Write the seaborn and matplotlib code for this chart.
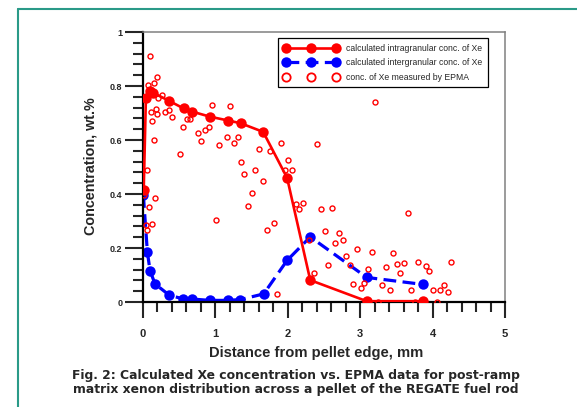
import numpy as np
import pandas as pd
import matplotlib
matplotlib.use("Agg")
import matplotlib.pyplot as plt
from matplotlib.lines import Line2D
from matplotlib.ticker import MultipleLocator
import seaborn as sns

# calculated intragranular conc. of Xe (red solid)
intra_x = [0.01, 0.04, 0.09, 0.14, 0.36, 0.56, 0.68, 0.93, 1.18, 1.35, 1.66, 1.99, 2.31, 3.09, 3.87]
intra_y = [0.415, 0.755, 0.78, 0.775, 0.745, 0.717, 0.705, 0.686, 0.672, 0.662, 0.63, 0.46, 0.081, 0.003, 0.003]

# calculated intergranular conc. of Xe (blue dashed)
inter_x = [0.005, 0.06, 0.097, 0.166, 0.364, 0.548, 0.677, 0.925, 1.17, 1.345, 1.667, 1.99, 2.31, 3.09, 3.87]
inter_y = [0.396, 0.186, 0.116, 0.067, 0.025, 0.012, 0.011, 0.006, 0.006, 0.009, 0.03, 0.154, 0.241, 0.091, 0.065]

# conc. of Xe measured by EPMA (open circles)
epma_x = [0.01, 0.037, 0.05, 0.129, 0.083, 0.166, 0.06, 0.152, 0.12, 0.106, 0.18, 0.189,
          0.065, 0.156, 0.198, 0.097, 0.212, 0.258, 0.308, 0.364, 0.405, 0.511, 0.552, 0.612,
          0.65, 0.755, 0.806, 0.856, 0.91, 0.957, 1.008, 1.054, 1.156, 1.206, 1.257, 1.308,
          1.358, 1.4, 1.455, 1.505, 1.55, 1.607, 1.657, 1.708, 1.754, 1.81, 1.855, 1.91,
          1.961, 2.003, 2.058, 2.109, 2.155, 2.205, 2.297, 2.362, 2.403, 2.454, 2.51, 2.555,
          2.606, 2.656, 2.707, 2.758, 2.808, 2.855, 2.905, 2.956, 3.007, 3.052, 3.108, 3.158,
          3.204, 3.25, 3.305, 3.356, 3.41, 3.453, 3.504, 3.554, 3.605, 3.66, 3.706, 3.75,
          3.803, 3.909, 3.955, 4.006, 4.06, 4.107, 4.16, 4.208, 4.254]
epma_y = [0.395, 0.284, 0.267, 0.29, 0.353, 0.386, 0.488, 0.599, 0.67, 0.705, 0.714, 0.696,
          0.804, 0.81, 0.834, 0.912, 0.757, 0.767, 0.703, 0.71, 0.684, 0.547, 0.648, 0.678,
          0.679, 0.625, 0.595, 0.636, 0.649, 0.731, 0.304, 0.583, 0.61, 0.726, 0.59, 0.61,
          0.517, 0.474, 0.354, 0.404, 0.489, 0.565, 0.448, 0.265, 0.56, 0.294, 0.028, 0.59,
          0.489, 0.527, 0.488, 0.363, 0.343, 0.368, 0.23, 0.106, 0.584, 0.343, 0.262, 0.138,
          0.347, 0.218, 0.254, 0.231, 0.17, 0.136, 0.067, 0.198, 0.052, 0.072, 0.121, 0.185,
          0.74, 0.0, 0.063, 0.128, 0.043, 0.181, 0.141, 0.107, 0.146, 0.331, 0.046, 0.0,
          0.149, 0.132, 0.114, 0.046, 0.0, 0.044, 0.062, 0.037, 0.148]

labels = ["calculated intragranular conc. of Xe",
          "calculated intergranular conc. of Xe",
          "conc. of Xe measured by EPMA"]
caption = ("Fig. 2: Calculated Xe concentration vs. EPMA data for post-ramp\n"
           "matrix xenon distribution across a pellet of the REGATE fuel rod")

sns.set_style("ticks")
plt.rcParams["font.family"] = ["Liberation Sans", "DejaVu Sans"]

W, H = 577, 407
fig = plt.figure(figsize=(W / 100, H / 100), dpi=100)
ax = fig.add_axes([143 / W, 1 - 302 / H, 362 / W, 270 / H])

sns.lineplot(x=inter_x, y=inter_y, ax=ax, estimator=None, sort=False, color="#0000ff",
             linewidth=2.3, linestyle=(0, (4, 2)), marker="o", markersize=7.5,
             markeredgecolor="#0000ff", markeredgewidth=0, zorder=2)
sns.lineplot(x=intra_x, y=intra_y, ax=ax, estimator=None, sort=False, color="#ff0000",
             linewidth=1.9, marker="o", markersize=7.5,
             markeredgecolor="#ff0000", markeredgewidth=0, zorder=3)
sns.lineplot(x=epma_x, y=epma_y, ax=ax, estimator=None, sort=False, color="#ff0000",
             linestyle="", marker="o", markersize=3.6, markerfacecolor="none",
             markeredgecolor="#ff0000", markeredgewidth=1.0, zorder=4)

ax.set_xlim(0, 5)
ax.set_ylim(0, 1)
ax.xaxis.set_major_locator(MultipleLocator(1))
ax.xaxis.set_minor_locator(MultipleLocator(0.2))
ax.yaxis.set_major_locator(MultipleLocator(0.2))
ax.yaxis.set_minor_locator(MultipleLocator(0.04))
ax.set_xticks(range(0, 6))
ax.set_xticklabels(["0", "1", "2", "3", "4", "5"])
ax.set_yticks([0, 0.2, 0.4, 0.6, 0.8, 1])
ax.set_yticklabels(["0", "0.2", "0.4", "0.6", "0.8", "1"])

ax.tick_params(axis="x", which="major", direction="out", length=11.5, width=1.5,
               pad=8, labelsize=8)
ax.tick_params(axis="x", which="minor", direction="out", length=7, width=1.5)
ax.tick_params(axis="y", which="major", direction="out", length=13, width=1.5,
               pad=2, labelsize=6.5)
ax.tick_params(axis="y", which="minor", direction="out", length=7, width=1.5)
for t in ax.get_xticklabels() + ax.get_yticklabels():
    t.set_fontweight("bold")

for s in ["left", "bottom"]:
    ax.spines[s].set_color("black")
    ax.spines[s].set_linewidth(1.6)
for s in ["top", "right"]:
    ax.spines[s].set_color("#808080")
    ax.spines[s].set_linewidth(1.1)

ax.set_xlabel("Distance from pellet edge, mm", fontsize=10.6, fontweight="bold")
ax.xaxis.set_label_coords(0.478, -0.163)
ax.set_ylabel("Concentration, wt.%", fontsize=10.4, fontweight="bold")
ax.yaxis.set_label_coords(-0.126, 0.504)

handles = [
    Line2D([], [], color="#ff0000", linewidth=1.9, marker="o", markersize=7.5,
           markeredgewidth=0),
    Line2D([], [], color="#0000ff", linewidth=2.3, linestyle=(0, (4, 2)), marker="o",
           markersize=7.5, markeredgewidth=0),
    Line2D([], [], color="#ff0000", linestyle="", marker="o", markersize=6,
           markerfacecolor="none", markeredgewidth=1.3),
]
leg = ax.legend(handles, labels, loc="upper left", bbox_to_anchor=(0.374, 0.977),
                borderaxespad=0, numpoints=3, handlelength=6.4, fontsize=6.2,
                fancybox=False, framealpha=1, edgecolor="black", labelspacing=0.65,
                handletextpad=0.86, borderpad=0.62)
leg.get_frame().set_linewidth(0.9)

fig.text(296 / W, 1 - 383 / H, caption, ha="center", va="center", fontsize=8.9,
         fontweight="bold", family=["DejaVu Sans"], linespacing=1.1)

border = "#2a9a88"
fig.add_artist(Line2D([17.5 / W, 17.5 / W], [0, 1 - 8.5 / H], color=border,
                      linewidth=1.5, transform=fig.transFigure))
fig.add_artist(Line2D([17.5 / W, 1], [1 - 8.5 / H, 1 - 8.5 / H], color=border,
                      linewidth=1.5, transform=fig.transFigure))

fig.savefig("out.png", dpi=100, facecolor="white")
